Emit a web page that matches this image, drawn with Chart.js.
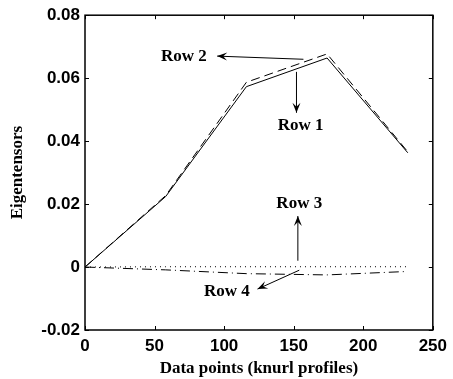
<!DOCTYPE html>
<html lang="en">
<head>
<meta charset="UTF-8">
<title>Eigentensors</title>
<script src="https://cdn.jsdelivr.net/npm/chart.js@4.4.1/dist/chart.umd.min.js"></script>
<style>
  html, body { margin: 0; padding: 0; background: #fff; }
  #wrap { width: 453px; height: 379px; }
</style>
</head>
<body>
<div id="wrap"><canvas id="myChart" width="453" height="379"></canvas></div>
<script>
// data points (knurl profiles)
const xPoints = [0, 58, 116, 174, 232];
const row1 = [0, 0.0224, 0.0573, 0.0664, 0.0363];
const row2 = [0, 0.0227, 0.0587, 0.0677, 0.0366];
const row3 = [0, 0.0001, 0.0001, 0.0001, 0.0001];
const row4 = [0, -0.0009, -0.0021, -0.0025, -0.0014];

const xTicks = [0, 50, 100, 150, 200, 250];
const yTicks = [-0.02, 0, 0.02, 0.04, 0.06, 0.08];

// arrow annotations, in data units: label pos, arrow from, arrow to
const notes = [
  { text: 'Row 2', at: [71, 0.0667], from: [157, 0.0660], to: [95, 0.0670] },
  { text: 'Row 1', at: [155, 0.0448], from: [152, 0.0620], to: [152, 0.0490] },
  { text: 'Row 3', at: [154, 0.0200], from: [153, 0.0020], to: [153, 0.0162] },
  { text: 'Row 4', at: [102, -0.0077], from: [154, -0.0010], to: [124, -0.0070] }
];

function pts(ys) {
  return xPoints.map((x, i) => ({ x: x, y: ys[i] }));
}

const serif = '"Liberation Serif", "DejaVu Serif", serif';
const sans = '"Liberation Sans", Arial, sans-serif';

// box + inward ticks like matlab
const boxPlugin = {
  id: 'box',
  afterDatasetsDraw(chart) {
    const c = chart.ctx, a = chart.chartArea;
    const xs = chart.scales.x, ys = chart.scales.y;
    c.save();
    c.strokeStyle = '#000';
    c.lineWidth = 1.5;
    c.strokeRect(a.left, a.top, a.right - a.left, a.bottom - a.top);
    c.lineWidth = 1;
    xTicks.forEach(v => {
      const p = Math.round(xs.getPixelForValue(v)) + 0.5;
      c.beginPath();
      c.moveTo(p, a.bottom); c.lineTo(p, a.bottom - 4);
      c.moveTo(p, a.top); c.lineTo(p, a.top + 4);
      c.stroke();
    });
    yTicks.forEach(v => {
      const p = Math.round(ys.getPixelForValue(v)) + 0.5;
      c.beginPath();
      c.moveTo(a.left, p); c.lineTo(a.left + 4, p);
      c.moveTo(a.right, p); c.lineTo(a.right - 4, p);
      c.stroke();
    });

    // annotations
    c.fillStyle = '#000';
    c.font = 'bold 17px ' + serif;
    c.textAlign = 'center';
    c.textBaseline = 'middle';
    notes.forEach(n => {
      c.fillText(n.text, xs.getPixelForValue(n.at[0]), ys.getPixelForValue(n.at[1]));
      const x1 = xs.getPixelForValue(n.from[0]), y1 = ys.getPixelForValue(n.from[1]);
      const x2 = xs.getPixelForValue(n.to[0]), y2 = ys.getPixelForValue(n.to[1]);
      c.beginPath();
      c.moveTo(x1, y1); c.lineTo(x2, y2);
      c.stroke();
      const ang = Math.atan2(y2 - y1, x2 - x1);
      const L = 10, W = 4;
      c.beginPath();
      c.moveTo(x2, y2);
      c.lineTo(x2 - L * Math.cos(ang) + W * Math.sin(ang), y2 - L * Math.sin(ang) - W * Math.cos(ang));
      c.lineTo(x2 - 0.6 * L * Math.cos(ang), y2 - 0.6 * L * Math.sin(ang));
      c.lineTo(x2 - L * Math.cos(ang) - W * Math.sin(ang), y2 - L * Math.sin(ang) + W * Math.cos(ang));
      c.closePath();
      c.fill();
    });
    c.restore();
  }
};

const ctx1 = document.getElementById('myChart').getContext('2d');
const myChart = new Chart(ctx1, {
  type: 'line',
  data: {
    datasets: [
      { label: 'Row 1', data: pts(row1), borderColor: '#000', borderWidth: 1, pointRadius: 0 },
      { label: 'Row 2', data: pts(row2), borderColor: '#000', borderWidth: 1, borderDash: [9, 5], pointRadius: 0 },
      { label: 'Row 3', data: pts(row3), borderColor: '#000', borderWidth: 1, borderDash: [1, 4], pointRadius: 0 },
      { label: 'Row 4', data: pts(row4), borderColor: '#000', borderWidth: 1, borderDash: [10, 4, 1, 4], pointRadius: 0 }
    ]
  },
  options: {
    responsive: false,
    animation: false,
    layout: { padding: { top: 15, right: 17, left: 7, bottom: 0 } },
    plugins: { legend: { display: false }, tooltip: { enabled: false } },
    scales: {
      x: {
        type: 'linear', min: 0, max: 250,
        afterBuildTicks: s => { s.ticks = xTicks.map(v => ({ value: v })); },
        afterFit: s => { s.height = 49; },
        grid: { display: false, drawTicks: false },
        border: { display: false },
        ticks: { padding: 6, color: '#000', font: { family: sans, size: 17, weight: 'bold' }, maxRotation: 0 },
        title: { display: true, text: 'Data points (knurl profiles)', color: '#000', padding: 0,
                 font: { family: serif, size: 17, weight: 'bold' } }
      },
      y: {
        min: -0.02, max: 0.08,
        afterBuildTicks: s => { s.ticks = yTicks.map(v => ({ value: v })); },
        afterFit: s => { s.width = 78; },
        grid: { display: false, drawTicks: false },
        border: { display: false },
        ticks: { padding: 5, color: '#000', font: { family: sans, size: 17, weight: 'bold' },
                 callback: v => Math.abs(v) < 1e-9 ? '0' : v.toFixed(2) },
        title: { display: true, text: 'Eigentensors', color: '#000', padding: 0,
                 font: { family: serif, size: 17, weight: 'bold' } }
      }
    }
  },
  plugins: [boxPlugin]
});
</script>
</body>
</html>
